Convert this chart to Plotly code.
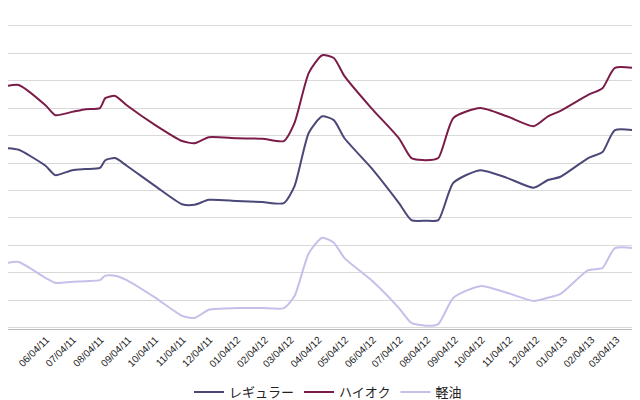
import plotly.graph_objects as go

# weekly-ish price readings (yen/L)
dates = ['2011-04-20', '2011-05-04', '2011-06-03', '2011-06-14', '2011-07-03', '2011-07-18',
         '2011-08-03', '2011-08-09', '2011-08-20', '2011-09-02', '2011-10-04', '2011-11-03',
         '2011-11-17', '2011-12-03', '2012-01-03', '2012-02-01', '2012-02-25', '2012-03-08',
         '2012-03-24', '2012-04-08', '2012-04-21', '2012-05-03', '2012-06-02', '2012-07-03',
         '2012-07-17', '2012-08-02', '2012-08-16', '2012-09-02', '2012-10-02', '2012-11-01',
         '2012-12-01', '2012-12-17', '2012-12-31', '2013-01-31', '2013-02-16', '2013-03-02',
         '2013-04-08']
regular = [152.7, 152.4, 149.5, 147.8, 148.7, 148.9, 149.1, 150.5, 150.9, 149.5, 145.8, 142.5,
           142.4, 143.3, 143.1, 142.9, 142.7, 145.8, 155.5, 158.5, 157.8, 154.5, 149.1, 142.7,
           139.6, 139.5, 139.6, 146.4, 148.7, 147.3, 145.5, 146.9, 147.5, 150.9, 152.0, 156.0,
           155.6]
highoctane = [164.0, 164.2, 160.5, 158.7, 159.3, 159.8, 160.0, 161.8, 162.2, 160.5, 156.9, 154.0,
              153.6, 154.7, 154.5, 154.4, 154.0, 157.3, 166.4, 169.6, 169.1, 165.8, 160.0, 154.5,
              150.9, 150.5, 150.9, 158.2, 160.0, 158.5, 156.7, 158.5, 159.5, 162.4, 163.6, 167.3,
              166.9]
diesel = [131.8, 132.0, 129.1, 128.2, 128.4, 128.5, 128.7, 129.5, 129.5, 128.7, 125.5, 122.2,
          121.8, 123.3, 123.6, 123.6, 123.6, 125.8, 133.6, 136.4, 135.5, 132.7, 128.7, 123.6,
          120.9, 120.4, 120.7, 125.5, 127.6, 126.4, 124.9, 125.5, 126.2, 130.5, 130.9, 134.5,
          134.2]
tick_dates = ['2011-%02d-04' % m for m in range(5, 13)] + ['2012-%02d-04' % m for m in range(1, 13)] \
    + ['2013-%02d-04' % m for m in range(1, 5)]

fig = go.Figure()
for name, vals, col in [('レギュラー', regular, '#4a4878'),
                        ('ハイオク', highoctane, '#7b1c48'),
                        ('軽油', diesel, '#c4c0ea')]:
    fig.add_trace(go.Scatter(x=dates, y=vals, name=name, mode='lines',
                             line=dict(color=col, width=2, shape='spline', smoothing=0.6)))

fig.update_layout(
    width=640, height=400, plot_bgcolor='white', paper_bgcolor='white',
    margin=dict(l=0, r=0, t=0, b=79),
    font=dict(family='Noto Sans CJK JP', size=10, color='#222'),
    legend=dict(orientation='h', x=0.5, xanchor='center', y=-0.15, yanchor='top',
                font=dict(size=13)),
)
fig.update_xaxes(range=['2011-04-22', '2013-04-08'], tickvals=tick_dates, tickformat='%m/%d/%y',
                 tickangle=-45, showgrid=False, showline=True, linecolor='#bbb',
                 tickfont=dict(family='Liberation Sans', size=10))
fig.update_yaxes(range=[119.8, 178.2], dtick=5, tick0=120, showgrid=True, gridcolor='#d9d9d9',
                 showticklabels=False, zeroline=False)
fig.write_html('out.html')
